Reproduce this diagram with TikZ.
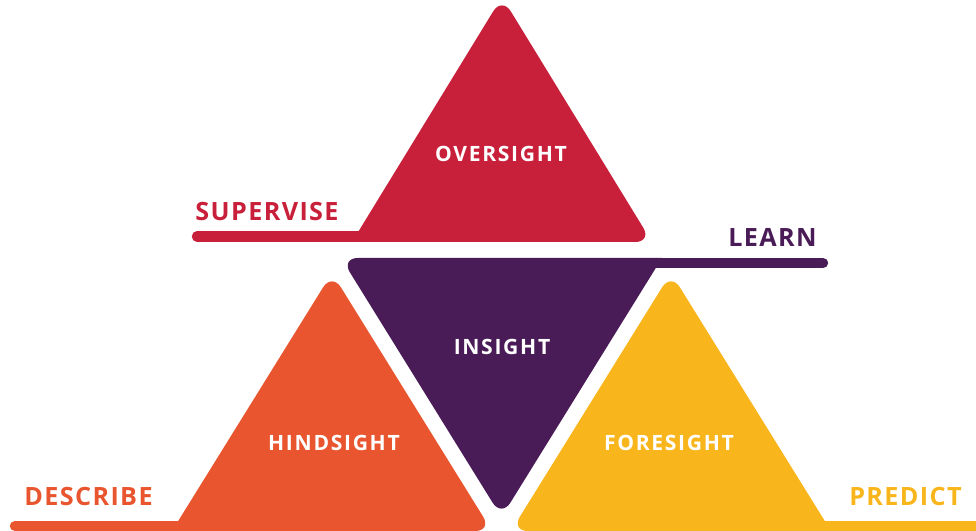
\documentclass[tikz,border=0pt]{standalone}
\usepackage{fontspec}
\setmainfont{Open Sans}
\newfontfamily\insidefont[LetterSpace=8]{Open Sans}
\newfontfamily\outsidefont[LetterSpace=5.5]{Open Sans}

\definecolor{overred}{HTML}{C8203A}
\definecolor{inpurple}{HTML}{4A1C57}
\definecolor{hindorange}{HTML}{E8552E}
\definecolor{foreyellow}{HTML}{F8B51C}

\tikzset{
  bar/.style={line width=7.4pt, line cap=round},
  inlabel/.style={text=white, inner sep=0pt, font=\insidefont\fontsize{15}{17}\selectfont\bfseries},
  outlabel/.style={inner sep=0pt, font=\outsidefont\fontsize{17.9}{20}\selectfont\bfseries},
}

\begin{document}
\begin{tikzpicture}[x=0.025cm, y=-0.025cm]
	\useasboundingbox (0,0) rectangle (976,531);
	%%%%% OVERSIGHT (top) %%%%%
	\fill[overred] (352,242) [rounded corners=12pt] -- (502,-3) -- (652,242) [sharp corners] -- cycle;
	\draw[overred, bar] (197,236.5) -- (400,236.5);
	\node[outlabel, text=overred] (supervise) at (267,212) {SUPERVISE};
	\node[inlabel] (oversight) at (501,153.5) {OVERSIGHT};
	
	%%%%% INSIGHT (middle, upside down) %%%%%
	\fill[inpurple] (662,258) [rounded corners=12pt] -- (501.5,517) -- (341,258) [sharp corners] -- cycle;
	\draw[inpurple, bar] (620,263) -- (823,263);
	\node[outlabel, text=inpurple] (learn) at (772.5,237) {LEARN};
	\node[inlabel] (insight) at (502,347) {INSIGHT};
	
	%%%%% HINDSIGHT (left) %%%%%
	\fill[hindorange] (172,531) [rounded corners=12pt] -- (332,273) -- (492,531) [sharp corners] -- cycle;
	\draw[hindorange, bar] (15,526) -- (250,526);
	\node[outlabel, text=hindorange] (describe) at (88.5,497) {DESCRIBE};
	\node[inlabel] (hindsight) at (334,443) {HINDSIGHT};
	
	%%%%% FORESIGHT (right) %%%%%
	\fill[foreyellow] (831,531) [rounded corners=12pt] -- (511,531) -- (671,273) [sharp corners] -- cycle;
	\draw[foreyellow, bar] (750,526) -- (990,526);
	\node[outlabel, text=foreyellow] (predict) at (905.5,496.5) {PREDICT};
	\node[inlabel] (foresight) at (669,443) {FORESIGHT};
\end{tikzpicture}
\end{document}
